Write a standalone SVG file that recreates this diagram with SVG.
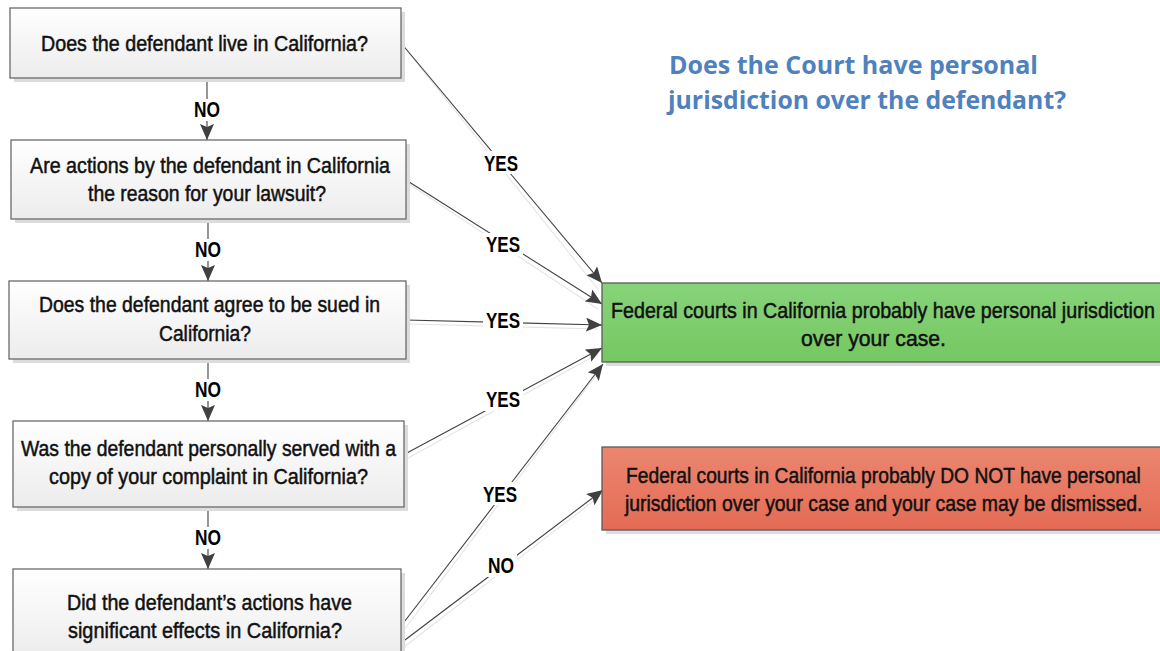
<svg xmlns="http://www.w3.org/2000/svg" width="1160" height="651" viewBox="0 0 1160 651">
<defs>
<linearGradient id="gBox" x1="0" y1="0" x2="0" y2="1"><stop offset="0" stop-color="#ffffff"/><stop offset="1" stop-color="#ececec"/></linearGradient>
<linearGradient id="gGreen" x1="0" y1="0" x2="0" y2="1"><stop offset="0" stop-color="#88d37a"/><stop offset="1" stop-color="#75c862"/></linearGradient>
<linearGradient id="gRed" x1="0" y1="0" x2="0" y2="1"><stop offset="0" stop-color="#ec8670"/><stop offset="1" stop-color="#e46b55"/></linearGradient>
<marker id="arr" markerUnits="userSpaceOnUse" markerWidth="16" markerHeight="14" refX="16" refY="7" orient="auto"><path d="M0,0 L16,7 L0,14 L3,7 z" fill="#404040"/></marker>
<style>
.box{fill:url(#gBox);stroke:#6a6a6a;stroke-width:1.3}
.shadow{fill:#dcdcdc}
.t{font-family:"Liberation Sans",Arial,sans-serif;font-size:22px;fill:#111;stroke:#111;stroke-width:0.5}
.lbl{font-family:"Liberation Sans",Arial,sans-serif;font-size:22px;font-weight:bold;fill:#000}
.title{font-family:"Open Sans","DejaVu Sans",sans-serif;font-size:25px;font-weight:bold;fill:#4f81bd}
.ln{stroke:#404040;stroke-width:1.1;fill:none}
.lns{stroke:#e4e4e4;stroke-width:1.1;fill:none}
.bg{fill:#ffffff}
</style>
</defs>
<rect width="1160" height="651" fill="#ffffff"/>

<g id="title">
<text class="title" x="669" y="74" textLength="369" lengthAdjust="spacingAndGlyphs">Does the Court have personal</text>
<text class="title" x="668" y="109" textLength="398" lengthAdjust="spacingAndGlyphs">jurisdiction over the defendant?</text>
</g>

<g id="connectors">
<g class="shadows">
<line class="lns" x1="404" y1="47" x2="598" y2="289"/>
<line class="lns" x1="409" y1="184" x2="598" y2="309"/>
<line class="lns" x1="409" y1="324" x2="598" y2="329"/>
<line class="lns" x1="408" y1="458" x2="598" y2="354"/>
<line class="lns" x1="404" y1="630" x2="600" y2="370"/>
<line class="lns" x1="404" y1="647" x2="600" y2="496"/>
</g>
<line class="ln" x1="207" y1="78" x2="207" y2="140" marker-end="url(#arr)"/>
<line class="ln" x1="208" y1="219" x2="208" y2="281" marker-end="url(#arr)"/>
<line class="ln" x1="208" y1="359" x2="208" y2="421" marker-end="url(#arr)"/>
<line class="ln" x1="208" y1="507" x2="208" y2="569" marker-end="url(#arr)"/>
<line class="ln" x1="401" y1="43" x2="602" y2="283" marker-end="url(#arr)"/>
<line class="ln" x1="406" y1="180" x2="602" y2="304" marker-end="url(#arr)"/>
<line class="ln" x1="406" y1="320" x2="602" y2="325" marker-end="url(#arr)"/>
<line class="ln" x1="405" y1="454" x2="602" y2="348" marker-end="url(#arr)"/>
<line class="ln" x1="401" y1="626" x2="603" y2="364" marker-end="url(#arr)"/>
<line class="ln" x1="401" y1="643" x2="603" y2="490" marker-end="url(#arr)"/>
<g class="labels">
<rect class="bg" x="191" y="99" width="32" height="22"/>
<text class="lbl" x="194" y="117" textLength="26" lengthAdjust="spacingAndGlyphs">NO</text>
<rect class="bg" x="192" y="239" width="32" height="22"/>
<text class="lbl" x="195" y="257" textLength="26" lengthAdjust="spacingAndGlyphs">NO</text>
<rect class="bg" x="192" y="379" width="32" height="22"/>
<text class="lbl" x="195" y="397" textLength="26" lengthAdjust="spacingAndGlyphs">NO</text>
<rect class="bg" x="192" y="527" width="32" height="22"/>
<text class="lbl" x="195" y="545" textLength="26" lengthAdjust="spacingAndGlyphs">NO</text>
<rect class="bg" x="481" y="151" width="40" height="23"/>
<text class="lbl" x="484" y="171" textLength="34" lengthAdjust="spacingAndGlyphs">YES</text>
<rect class="bg" x="483" y="233" width="40" height="23"/>
<text class="lbl" x="486" y="252" textLength="34" lengthAdjust="spacingAndGlyphs">YES</text>
<rect class="bg" x="483" y="309" width="40" height="23"/>
<text class="lbl" x="486" y="328" textLength="34" lengthAdjust="spacingAndGlyphs">YES</text>
<rect class="bg" x="483" y="388" width="40" height="23"/>
<text class="lbl" x="486" y="407" textLength="34" lengthAdjust="spacingAndGlyphs">YES</text>
<rect class="bg" x="480" y="482" width="40" height="23"/>
<text class="lbl" x="483" y="502" textLength="34" lengthAdjust="spacingAndGlyphs">YES</text>
<rect class="bg" x="485" y="554" width="32" height="23"/>
<text class="lbl" x="488" y="573" textLength="26" lengthAdjust="spacingAndGlyphs">NO</text>
</g>
</g>

<g id="q1">
<rect class="shadow" x="14" y="12" width="391" height="70"/>
<rect class="box" x="10" y="8" width="391" height="70"/>
<text class="t" x="41" y="51" textLength="327" lengthAdjust="spacingAndGlyphs">Does the defendant live in California?</text>
</g>
<g id="q2">
<rect class="shadow" x="15" y="144" width="395" height="79"/>
<rect class="box" x="11" y="140" width="395" height="79"/>
<text class="t" x="30" y="173" textLength="360" lengthAdjust="spacingAndGlyphs">Are actions by the defendant in California</text>
<text class="t" x="88" y="201" textLength="238" lengthAdjust="spacingAndGlyphs">the reason for your lawsuit?</text>
</g>
<g id="q3">
<rect class="shadow" x="13" y="285" width="397" height="78"/>
<rect class="box" x="9" y="281" width="397" height="78"/>
<text class="t" x="39" y="312" textLength="341" lengthAdjust="spacingAndGlyphs">Does the defendant agree to be sued in</text>
<text class="t" x="159" y="341" textLength="92" lengthAdjust="spacingAndGlyphs">California?</text>
</g>
<g id="q4">
<rect class="shadow" x="17" y="425" width="391" height="86"/>
<rect class="box" x="13" y="421" width="391" height="86"/>
<text class="t" x="21" y="456" textLength="375" lengthAdjust="spacingAndGlyphs">Was the defendant personally served with a</text>
<text class="t" x="49" y="484" textLength="319" lengthAdjust="spacingAndGlyphs">copy of your complaint in California?</text>
</g>
<g id="q5">
<rect class="shadow" x="17" y="573" width="388" height="90"/>
<rect class="box" x="13" y="569" width="388" height="90"/>
<text class="t" x="67" y="610" textLength="285" lengthAdjust="spacingAndGlyphs">Did the defendant’s actions have</text>
<text class="t" x="68" y="638" textLength="274" lengthAdjust="spacingAndGlyphs">significant effects in California?</text>
</g>
<g id="yes">
<rect class="shadow" x="606" y="287" width="560" height="79"/>
<rect x="602" y="283" width="560" height="79" fill="url(#gGreen)" stroke="#5a5a5a" stroke-width="1.3"/>
<text class="t" transform="translate(611,318) scale(0.88,1)" x="0" y="0" textLength="618" lengthAdjust="spacingAndGlyphs">Federal courts in California probably have personal jurisdiction</text>
<text class="t" x="801" y="346" textLength="145" lengthAdjust="spacingAndGlyphs">over your case.</text>
</g>
<g id="no">
<rect class="shadow" x="606" y="451" width="560" height="83"/>
<rect x="602" y="447" width="560" height="83" fill="url(#gRed)" stroke="#5a5a5a" stroke-width="1.3"/>
<text class="t" transform="translate(626,483) scale(0.88,1)" x="0" y="0" textLength="585" lengthAdjust="spacingAndGlyphs">Federal courts in California probably DO NOT have personal</text>
<text class="t" transform="translate(625,511) scale(0.88,1)" x="0" y="0" textLength="588" lengthAdjust="spacingAndGlyphs">jurisdiction over your case and your case may be dismissed.</text>
</g>
</svg>
